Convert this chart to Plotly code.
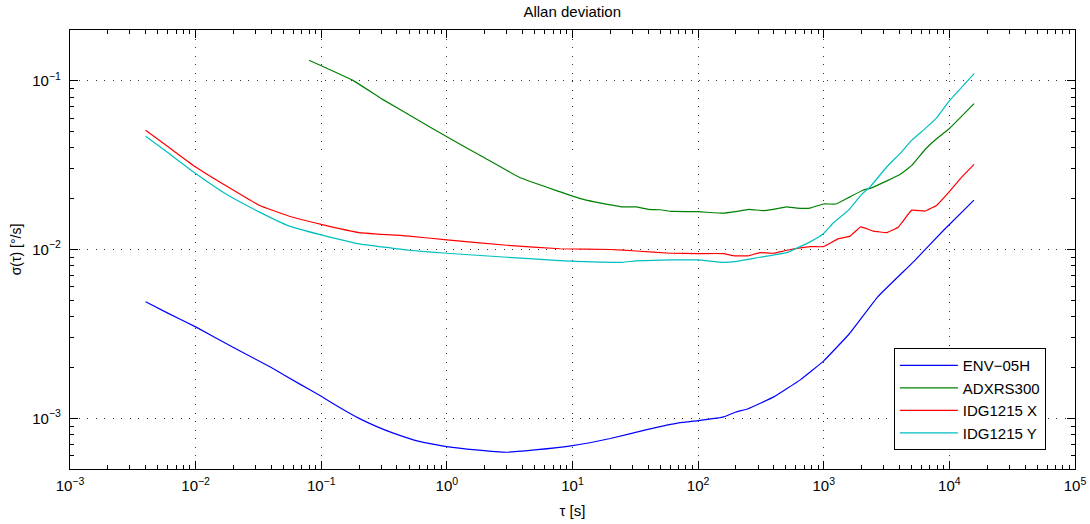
import plotly.graph_objects as go

# ---- data ----
env_tau = [0.004, 0.006, 0.01, 0.02, 0.04, 0.067, 0.1, 0.14, 0.2, 0.28, 0.37, 0.6, 1, 1.7, 3, 5, 10, 20, 39, 70, 100, 150, 160, 200, 250, 400, 650, 1000, 1600, 2700, 5200, 9000, 15700]
env_sig = [0.0049, 0.0042, 0.00348, 0.00263, 0.002, 0.0016, 0.00135, 0.00116, 0.001, 0.00089, 0.00082, 0.00073, 0.00068, 0.00065, 0.00063, 0.00065, 0.00069, 0.00076, 0.000857, 0.00094, 0.00097, 0.00101, 0.00102, 0.00109, 0.00114, 0.00134, 0.00169, 0.00219, 0.00317, 0.00526, 0.00848, 0.013, 0.0196]

adx_tau = [0.08, 0.18, 0.31, 0.57, 1, 1.94, 3.8, 7.9, 10, 12.8, 16.5, 25, 32, 40, 50, 62, 100, 158, 196, 255, 327, 396, 507, 610, 778, 993, 1253, 1620, 2070, 2340, 3180, 4060, 5020, 6410, 7940, 9840, 15740]
adx_sig = [0.132, 0.1, 0.0772, 0.0593, 0.0465, 0.0353, 0.0267, 0.022, 0.0207, 0.0196, 0.0189, 0.0179, 0.0179, 0.0173, 0.0172, 0.0168, 0.01675, 0.0164, 0.01675, 0.0173, 0.0170, 0.0173, 0.0179, 0.0176, 0.0176, 0.0186, 0.0186, 0.0205, 0.0225, 0.023, 0.0255, 0.0279, 0.0315, 0.0391, 0.0454, 0.0515, 0.0731]

idgx_tau = [0.004, 0.006, 0.01, 0.018, 0.032, 0.055, 0.1, 0.2, 0.5, 1, 3, 7.9, 20, 32, 60, 100, 158, 196, 250, 310, 396, 507, 778, 993, 1310, 1620, 1970, 2480, 3180, 3930, 5020, 6410, 7940, 9840, 12600, 15740]
idgx_sig = [0.0508, 0.0407, 0.0308, 0.0235, 0.0183, 0.0158, 0.0141, 0.0126, 0.012, 0.0114, 0.0106, 0.0101, 0.01, 0.0098, 0.0095, 0.00946, 0.00946, 0.00917, 0.00917, 0.00958, 0.0095, 0.0099, 0.0104, 0.0104, 0.0116, 0.012, 0.0136, 0.01285, 0.0126, 0.0136, 0.0171, 0.0169, 0.0183, 0.0217, 0.0269, 0.0319]

idgy_tau = [0.004, 0.006, 0.01, 0.018, 0.032, 0.055, 0.1, 0.2, 0.5, 1, 3, 7.9, 14.6, 25, 32, 60, 100, 158, 196, 310, 507, 778, 993, 1195, 1575, 1980, 2340, 3180, 4060, 5020, 6410, 7940, 9840, 15740]
idgy_sig = [0.0469, 0.0375, 0.0282, 0.021, 0.0167, 0.0138, 0.0122, 0.0108, 0.0099, 0.0095, 0.0090, 0.0086, 0.00844, 0.0084, 0.00856, 0.00867, 0.00867, 0.0084, 0.00848, 0.009, 0.00958, 0.0111, 0.0124, 0.0144, 0.0171, 0.021, 0.0235, 0.0309, 0.0371, 0.0444, 0.052, 0.0604, 0.0748, 0.11]

x_exps = [-3, -2, -1, 0, 1, 2, 3, 4, 5]
y_exps = [-3, -2, -1]

def lab(e):
    s = str(e).replace("-", "\u2212")
    return "10<sup>" + s + "</sup>"

x_major = [10.0 ** e for e in x_exps]
y_major = [10.0 ** e for e in y_exps]
x_minor = [k * 10.0 ** e for e in range(-3, 5) for k in range(2, 10)]
y_minor = [k * 10.0 ** e for e in range(-4, 0) for k in range(2, 10)]

FONT = "Liberation Sans, Arial, Helvetica, sans-serif"

fig = go.Figure()
series = [
    ("ENV\u221205H", env_tau, env_sig, "#0000ff"),
    ("ADXRS300", adx_tau, adx_sig, "#008000"),
    ("IDG1215 X", idgx_tau, idgx_sig, "#ff0000"),
    ("IDG1215 Y", idgy_tau, idgy_sig, "#00bfbf"),
]
for name, t, s, c in series:
    fig.add_trace(go.Scatter(x=t, y=s, mode="lines", name=name,
                             line=dict(color=c, width=1.2, shape="spline", smoothing=0.3)))

axis_common = dict(
    type="log", showline=True, linecolor="black", linewidth=1.2,
    mirror="allticks", ticks="inside", ticklen=8, tickwidth=1, tickcolor="black",
    showgrid=True, gridcolor="#333333", griddash="1px,7.5px", gridwidth=1,
    zeroline=False, automargin=False,
    tickfont=dict(family=FONT, size=15, color="black"),
)

fig.update_xaxes(**axis_common, range=[-3, 5], tickmode="array",
                 tickvals=x_major, ticktext=[lab(e) for e in x_exps],
                 ticklabelstandoff=3,
                 minor=dict(tickmode="array", tickvals=x_minor, ticks="inside",
                            ticklen=4, tickcolor="black", showgrid=False),
                 title=dict(text="\u03c4 [s]", font=dict(family=FONT, size=15, color="black"), standoff=12))
fig.update_yaxes(**axis_common, range=[-3.3, -0.7], tickmode="array",
                 tickvals=y_major, ticktext=[lab(e) for e in y_exps],
                 ticklabelstandoff=5,
                 minor=dict(tickmode="array", tickvals=y_minor, ticks="inside",
                            ticklen=4, tickcolor="black", showgrid=False),
                 title=dict(text="\u03c3(\u03c4) [\u00b0/s]", font=dict(family=FONT, size=14, color="black"), standoff=7))

fig.update_layout(
    width=1090, height=524,
    margin=dict(l=70, r=15, t=30, b=55),
    paper_bgcolor="white", plot_bgcolor="white",
    title=dict(text="Allan deviation", x=0.525, xanchor="center", y=0.978, yanchor="middle",
               font=dict(family=FONT, size=15, color="black")),
    legend=dict(x=0.971, xanchor="right", y=0.043, yanchor="bottom",
                bordercolor="black", borderwidth=1, bgcolor="white",
                font=dict(family=FONT, size=15, color="black"),
                tracegroupgap=0, itemwidth=58),
    showlegend=True,
)

fig.write_html("out.html", config={"displayModeBar": False},
               post_script="document.body.style.margin='0';")
